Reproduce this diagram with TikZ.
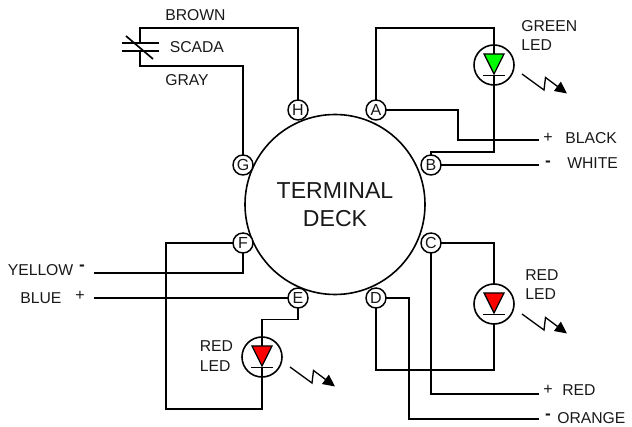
\documentclass[tikz,border=0pt]{standalone}
\usepackage{fontspec}
\setmainfont{Liberation Sans}
\usetikzlibrary{arrows.meta}
\definecolor{ledgreen}{RGB}{0,255,0}
\definecolor{ledred}{RGB}{255,0,0}
\definecolor{inkc}{RGB}{25,25,25}
\tikzset{
  wire/.style={line width=1.25pt,line join=miter},
  thin wire/.style={line width=0.9pt},
  terminal/.style={circle,draw,line width=1.1pt,fill=white,minimum size=15pt,inner sep=0pt,outer sep=0pt,font=\fontsize{12}{12}\selectfont,text=inkc},
  deck/.style={circle,draw,line width=1.2pt,minimum size=135pt,inner sep=0pt,outer sep=0pt},
  deck label/.style={font=\fontsize{17.3}{17.3}\selectfont,text=inkc,inner sep=0pt},
  led/.style={circle,draw,line width=1.2pt,fill=white,minimum size=30pt,inner sep=0pt,outer sep=0pt},
  lbl/.style={anchor=west,inner sep=0pt,font=\fontsize{11.8}{11.8}\selectfont,text=inkc},
  sign/.style={inner sep=0pt,font=\fontsize{12}{12}\selectfont,text=inkc},
  minus/.style={inner sep=0pt,font=\bfseries\fontsize{13}{13}\selectfont,text=inkc},
  bolt/.style={line width=1pt,-{Triangle[length=9pt,width=8.5pt]}},
  diode/.style={draw,line width=1pt,line join=miter},
  pics/flash/.style={code={\draw[bolt] (0,0) -- (22,16) -- (23.5,3.5) -- (45,19.5);}},
  pics/dioded/.style={code={
    \draw[diode,fill=#1] (-10,-11) -- (10,-11) -- (0,9) -- cycle;
    \draw[line width=1.2pt] (-11,10.5) -- (11,10.5);}}
}
\begin{document}
\begin{tikzpicture}[x=0.75pt,y=-0.75pt]
\useasboundingbox (0,0) rectangle (632,427);

\node[deck] (deck) at (335,204.5) {};
\node[deck label] (t1) at (335,191) {TERMINAL};
\node[deck label] (t2) at (335,218.5) {DECK};

\node[terminal] (A) at (376,110) {A};
\node[terminal] (B) at (431,165) {B};
\node[terminal] (C) at (431,243) {C};
\node[terminal] (D) at (376,298) {D};
\node[terminal] (E) at (298,298) {E};
\node[terminal] (F) at (243,243) {F};
\node[terminal] (G) at (243,165) {G};
\node[terminal] (H) at (298,110) {H};

\node[led] (LG) at (494,65) {};
\node[led] (LR) at (494,304) {};
\node[led] (LE) at (262,357) {};

\coordinate (sU) at (140,43);
\coordinate (sL) at (140,51);
\coordinate (kb) at (539,140);
\coordinate (kw) at (539,165);
\coordinate (kr) at (539,394);
\coordinate (ko) at (539,419);
\coordinate (ky) at (94,272.7);
\coordinate (kbl) at (94,298);

% SCADA contact
\draw[thin wire] (122,43) -- (159,43);
\draw[thin wire] (122,51) -- (159,51);
\draw[wire] (126,36) -- (153,59);
\draw[wire] (sU) -- (140,28) -- (298,28) -- (H.north);
\draw[wire] (sL) -- (140,66) -- (243,66) -- (G.north);

% Right side
\draw[wire] (A.north) -- (376,28) -- (494,28) -- (494,54);
\draw[wire] (494,75) -- (494,152) -- (431,152) -- (B.north);
\draw[wire] (A.east) -- (458,110) -- (458,140) -- (kb);
\draw[wire] (B.east) -- (kw);
\draw[wire] (C.east) -- (494,243) -- (LR.north);
\draw[wire] (LR.south) -- (494,370) -- (376,370) -- (D.south);
\draw[wire] (C.south) -- (431,394) -- (kr);
\draw[wire] (D.east) -- (409,298) -- (409,419) -- (ko);

% Left side
\draw[wire] (F.west) -- (166,243) -- (166,409) -- (262,409) -- (262,368);
\draw[wire] (F.south) -- (243,272.7) -- (ky);
\draw[wire] (E.west) -- (kbl);
\draw[wire] (E.south) -- (298,319.5) -- (262,319.5) -- (262,346);

% Diodes
\pic at (494,65) {dioded=ledgreen};
\pic at (494,304) {dioded=ledred};
\pic at (262,357) {dioded=ledred};

% Light flashes
\pic at (522,74) {flash};
\pic at (522,314) {flash};
\pic at (290,367) {flash};

% Labels
\node[lbl] (brown) at (165,15) {BROWN};
\node[lbl] (scada) at (169.5,47.5) {SCADA};
\node[lbl] (gray) at (165,80.5) {GRAY};
\node[lbl] (gl1) at (521,26) {GREEN};
\node[lbl] (gl2) at (521,45.5) {LED};
\node[sign] (p1) at (548,137.5) {+};
\node[lbl] (black) at (565,138) {BLACK};
\node[minus] (m1) at (548,164) {-};
\node[lbl] (white) at (567,163.5) {WHITE};
\node[lbl] (rl1) at (525,275) {RED};
\node[lbl] (rl2) at (525,294.5) {LED};
\node[sign] (p2) at (548,390) {+};
\node[lbl] (red) at (562,390) {RED};
\node[minus] (m2) at (548,417) {-};
\node[lbl] (orange) at (557,418) {ORANGE};
\node[lbl] (yellow) at (7.5,270) {YELLOW};
\node[minus] (m3) at (82,268) {-};
\node[lbl] (blue) at (20,298) {BLUE};
\node[sign] (p3) at (80,296) {+};
\node[lbl] (el1) at (199.5,346.5) {RED};
\node[lbl] (el2) at (199.5,366) {LED};
\end{tikzpicture}
\end{document}
